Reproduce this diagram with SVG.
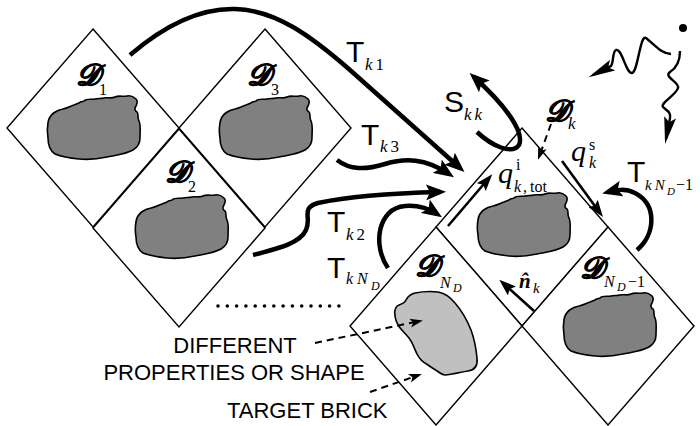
<svg xmlns="http://www.w3.org/2000/svg" width="700" height="426" viewBox="0 0 700 426">
<style>
.dia{fill:#fff;stroke:#000;stroke-width:1.4;stroke-linejoin:miter}
.blob{fill:#808080;stroke:#000;stroke-width:1.6;stroke-linejoin:round}
.blob2{fill:#c0c0c0;stroke:#000;stroke-width:1.6;stroke-linejoin:round}
.scr{font-family:"DejaVu Serif","Liberation Serif",serif;font-size:30px;font-style:italic;font-weight:bold;stroke:#000;stroke-width:0.9}
.sub{font-family:"Liberation Serif",serif;font-size:16px}
.mi{font-family:"Liberation Serif",serif;font-style:italic}
.T{font-family:"Liberation Sans",Arial,sans-serif;font-size:30px}
.cap{font-family:"Liberation Sans",Arial,sans-serif;font-size:22px}
.thick{fill:none;stroke:#000;stroke-width:4.5}
.mid{fill:none;stroke:#000;stroke-width:2.6}
.wave{fill:none;stroke:#000;stroke-width:2.4}
.dash{fill:none;stroke:#000;stroke-width:2;stroke-dasharray:7 5}
</style>
<defs>
<path id="dia" d="M0,-99 L86,0 L0,99 L-86,0 Z"/>
<path id="blob" d="M-45,-5 C-44,-14 -36,-18 -30,-19 C-26,-20 -22,-22 -19,-23 L-14,-25 C-12,-27 -10,-26 -9,-27 C-6,-30 -1,-28 2,-29 C5,-30 8,-29 11,-30 C15,-31 18,-29 22,-31 C26,-33 30,-31 34,-32 C38,-33 41,-31 43,-29 C45,-27 44,-24 43,-22 C41,-19 42,-17 44,-16 C46,-14 44,-10 46,-7 C48,-3 47,3 47,10 C47,15 45,19 40,22 C33,26 24,27 14,29 C5,31 -5,32 -14,31 C-24,30 -33,28 -38,26 C-44,22 -45,15 -45,10 C-46,4 -46,0 -45,-5 Z"/>
<marker id="ah" markerUnits="userSpaceOnUse" markerWidth="22" markerHeight="16" refX="14" refY="8" orient="auto"><path d="M0,0 L20,8 L0,16 L4,8 Z"/></marker>
<marker id="ahs" markerUnits="userSpaceOnUse" markerWidth="18" markerHeight="12" refX="12" refY="6" orient="auto"><path d="M0,0 L17,6 L0,12 L3,6 Z"/></marker>
<marker id="ahw" markerUnits="userSpaceOnUse" markerWidth="28" markerHeight="12" refX="22" refY="6" orient="auto"><path d="M0,0 L27,6 L0,12 L5,6 Z"/></marker>
<marker id="ahd" markerUnits="userSpaceOnUse" markerWidth="14" markerHeight="10" refX="10" refY="4.5" orient="auto"><path d="M0,0 L13,4.5 L0,9 L3,4.5 Z"/></marker>
</defs>
<rect width="700" height="426" fill="#fff"/>

<!-- bricks -->
<g id="brick-1">
<use href="#dia" x="93" y="128" class="dia"/>
<use href="#blob" x="93" y="128" class="blob"/>
<text x="76" y="85" class="scr">𝒟</text><text x="99" y="95" class="sub">1</text>
</g>
<g id="brick-3">
<use href="#dia" x="265" y="128" class="dia"/>
<use href="#blob" x="265" y="128" class="blob"/>
<text x="247" y="85" class="scr">𝒟</text><text x="271" y="95" class="sub">3</text>
</g>
<g id="brick-2">
<use href="#dia" x="179" y="228" class="dia"/>
<use href="#blob" x="181" y="227" class="blob"/>
<text x="165" y="182" class="scr">𝒟</text><text x="188" y="192" class="sub">2</text>
</g>
<g id="brick-k">
<use href="#dia" x="522" y="227" class="dia"/>
<use href="#blob" x="523" y="225" class="blob"/>
</g>
<g id="brick-nd">
<use href="#dia" x="436" y="326" class="dia"/>
<path class="blob2" d="M395,315 C394,310 396,306 399,305 C402,304 405,303 406,300 C408,296 411,294 415,293 C420,292 430,291 438,292 C445,293 450,297 455,303 C462,311 467,320 471,330 C474,338 476,348 477,358 C478,366 475,370 468,371 C462,372 458,373 452,374 C447,375 444,376 440,373 C436,370 432,368 428,365 C423,362 420,360 417,354 C414,348 413,343 409,338 C405,333 401,330 398,325 C396,321 395,318 395,315 Z"/>
<text x="415" y="276" class="scr">𝒟</text>
<text x="440" y="288" class="mi" font-size="16">N</text><text x="453" y="292" class="mi" font-size="12">D</text>
</g>
<g id="brick-nd1">
<use href="#dia" x="608" y="326" class="dia"/>
<use href="#blob" x="609" y="325" class="blob"/>
<text x="580" y="278" class="scr">𝒟</text>
<text x="604" y="287" class="mi" font-size="16">N</text><text x="617" y="291" class="mi" font-size="12">D</text><text x="628" y="287" class="sub">−1</text>
</g>

<!-- connectors -->
<g id="connectors">
<path class="thick" marker-end="url(#ah)" d="M130,55 C165,25 200,8 235,9 C275,10 310,35 350,70 L460,168"/>
<path class="thick" marker-end="url(#ah)" d="M337,160 C350,170 365,170 385,164 C405,158 425,158 449,174"/>
<path class="thick" marker-end="url(#ah)" d="M253,255 C280,248 300,243 306,230 C312,218 300,208 318,203 C350,196 400,193 440,192"/>
<path class="thick" marker-end="url(#ah)" d="M388,268 C372,245 378,208 405,206 C418,205 428,208 437,214"/>
<path class="thick" marker-end="url(#ah)" d="M637,250 C655,235 658,205 635,193 C625,188 616,190 608,192"/>
<path class="thick" marker-end="url(#ah)" d="M477,132 C492,146 512,155 519,145 C525,132 505,105 474,77"/>
<path class="mid" marker-end="url(#ahs)" d="M448,226 L489,178"/>
<path class="mid" marker-end="url(#ahs)" d="M562,161 L600,213"/>
<path class="mid" marker-end="url(#ahs)" d="M534,311 L503,283"/>
<path class="dash" marker-end="url(#ahd)" d="M551,124 L539,157"/>
<path class="dash" marker-end="url(#ahd)" d="M315,343 L420,321"/>
<path class="dash" marker-end="url(#ahd)" d="M370,392 L419,375"/>
<path class="wave" marker-end="url(#ahw)" d="M671,54 C662,54 656,46 646,38 C640,34 638,72 632,73 C626,74 622,48 616,50 C612,52 614,62 611,66 L593,75"/>
<path class="wave" marker-end="url(#ahw)" d="M680,51 C680,60 678,67 670,72 C663,77 680,82 678,88 C676,95 660,103 663,107 C667,111 671,112 670,118 L666,139"/>
<circle cx="683" cy="28" r="4"/>
<line x1="218" y1="306" x2="339" y2="306" stroke="#000" stroke-width="3.6" stroke-linecap="round" stroke-dasharray="0 9.3"/>
</g>

<!-- labels -->
<g id="labels">
<text x="346" y="62" class="T">T</text><text x="365" y="70" class="mi" font-size="17">k<tspan dx="3" font-style="normal">1</tspan></text>
<text x="361" y="145" class="T">T</text><text x="380" y="152" class="mi" font-size="17">k<tspan dx="3" font-style="normal">3</tspan></text>
<text x="327" y="232" class="T">T</text><text x="346" y="240" class="mi" font-size="17">k<tspan dx="3" font-style="normal">2</tspan></text>
<text x="327" y="278" class="T">T</text><text x="346" y="284" class="mi" font-size="16">k<tspan dx="4">N</tspan></text><text x="371" y="290" class="mi" font-size="12">D</text>
<text x="627" y="182" class="T">T</text><text x="645" y="190" class="mi" font-size="15">k<tspan dx="3">N</tspan></text><text x="667" y="195" class="mi" font-size="11">D</text><text x="676" y="190" class="sub" font-size="15">−1</text>
<text x="444" y="112" class="T" font-size="28">S</text><text x="464" y="120" class="mi" font-size="17">k<tspan dx="3">k</tspan></text>
<text x="545" y="121" class="scr">𝒟</text><text x="568" y="129" class="mi" font-size="17">k</text>
<text x="498" y="183" class="mi" font-size="30">q</text><text x="516" y="170" class="sub" font-size="13">i</text><text x="514" y="192" class="mi" font-size="16">k<tspan dx="2" font-style="normal">,</tspan><tspan dx="3" font-style="normal">tot</tspan></text>
<text x="571" y="161" class="mi" font-size="30">q</text><text x="589" y="150" class="sub" font-size="13">s</text><text x="589" y="168" class="mi" font-size="16">k</text>
<text x="519" y="288" font-family="Liberation Serif,serif" font-style="italic" font-weight="bold" font-size="21">n̂</text><text x="533" y="293" class="mi" font-size="15">k</text>
<text x="235" y="353" class="cap" text-anchor="middle">DIFFERENT</text>
<text x="234" y="380" class="cap" text-anchor="middle">PROPERTIES OR SHAPE</text>
<text x="227" y="418" class="cap">TARGET BRICK</text>
</g>
</svg>
